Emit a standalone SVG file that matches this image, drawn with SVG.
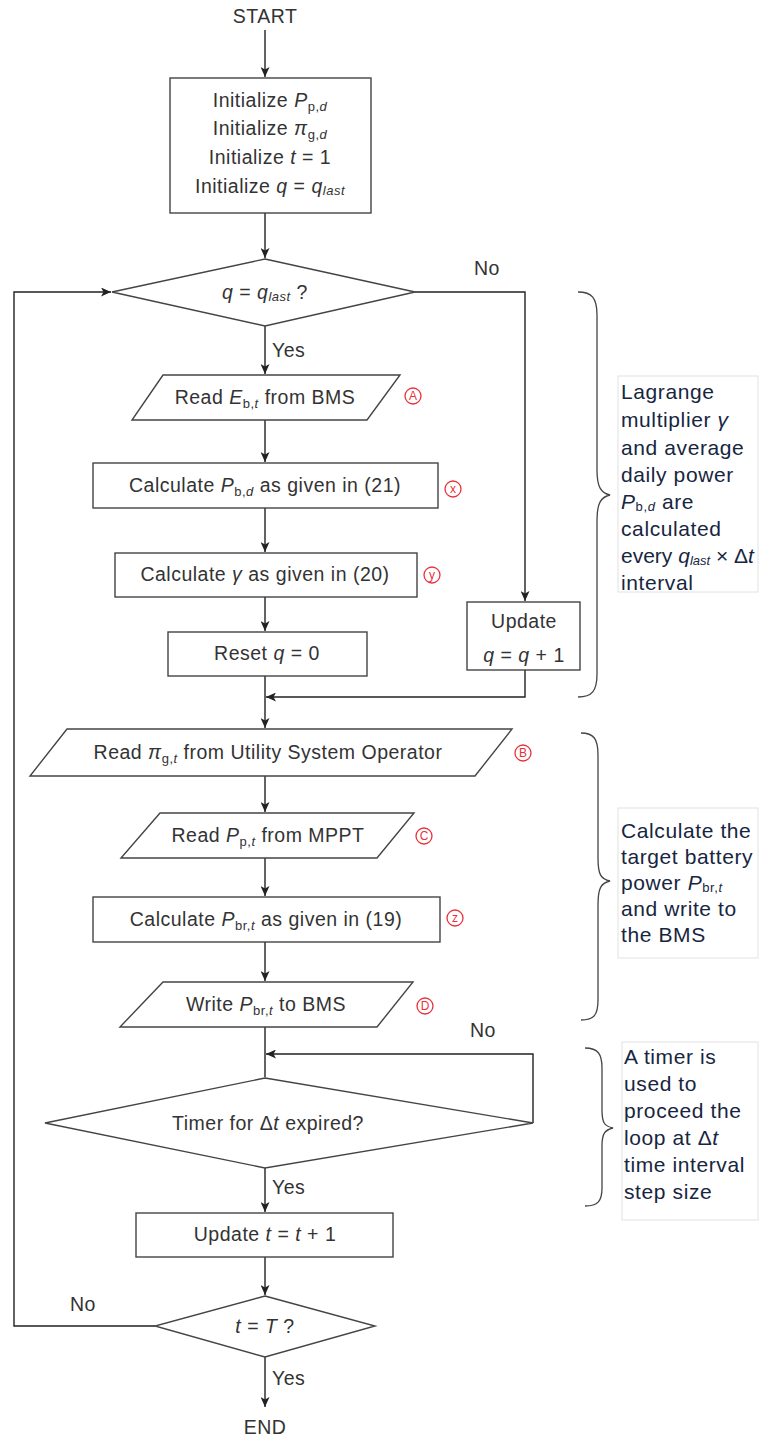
<svg xmlns="http://www.w3.org/2000/svg" width="760" height="1439" viewBox="0 0 760 1439">
<defs>
<marker id="arr" markerUnits="userSpaceOnUse" markerWidth="10" markerHeight="9" viewBox="0 0 10 9" refX="10" refY="4.5" orient="auto">
<path d="M0,0 L10,4.5 L0,9 L2.5,4.5 z" fill="#222"/>
</marker>
<style>
.shape{fill:#fff;stroke:#444;stroke-width:1.4}
.conn{fill:none;stroke:#222;stroke-width:1.4}
.t{font-family:"Liberation Sans",Arial,sans-serif;font-size:19.5px;fill:#333;letter-spacing:0.5px}
.c{text-anchor:middle}
.i{font-style:italic}
.s{font-size:13px}
.side{font-family:"Liberation Sans",Arial,sans-serif;font-size:21px;fill:#17263f;letter-spacing:0.6px}
.tight{letter-spacing:0}
.sbox{fill:#fff;stroke:#e2e2e2;stroke-width:1}
.brace{fill:none;stroke:#444;stroke-width:1.3}
.mk circle{fill:#fff;stroke:#e8323c;stroke-width:1.3}
.mk text{font-family:"Liberation Sans",Arial,sans-serif;font-size:12px;fill:#e8323c;text-anchor:middle}
</style>
</defs>
<rect width="760" height="1439" fill="#fff"/>

<g id="connectors">
<line class="conn" x1="265" y1="30" x2="265" y2="77" marker-end="url(#arr)"/>
<line class="conn" x1="265" y1="213" x2="265" y2="258" marker-end="url(#arr)"/>
<line class="conn" x1="265" y1="326" x2="265" y2="374" marker-end="url(#arr)"/>
<line class="conn" x1="265" y1="420" x2="265" y2="462" marker-end="url(#arr)"/>
<line class="conn" x1="265" y1="508" x2="265" y2="552" marker-end="url(#arr)"/>
<line class="conn" x1="265" y1="597" x2="265" y2="631" marker-end="url(#arr)"/>
<line class="conn" x1="265" y1="676" x2="265" y2="728" marker-end="url(#arr)"/>
<polyline class="conn" points="415,292 525,292 525,601" marker-end="url(#arr)"/>
<polyline class="conn" points="525,670 525,697 266,697" marker-end="url(#arr)"/>
<line class="conn" x1="265" y1="776" x2="265" y2="812" marker-end="url(#arr)"/>
<line class="conn" x1="265" y1="858" x2="265" y2="896" marker-end="url(#arr)"/>
<line class="conn" x1="265" y1="942" x2="265" y2="981" marker-end="url(#arr)"/>
<line class="conn" x1="265" y1="1027" x2="265" y2="1077"/>
<polyline class="conn" points="533,1123 533,1054 266,1054" marker-end="url(#arr)"/>
<line class="conn" x1="265" y1="1168" x2="265" y2="1212" marker-end="url(#arr)"/>
<line class="conn" x1="265" y1="1257" x2="265" y2="1295" marker-end="url(#arr)"/>
<polyline class="conn" points="155,1326 14,1326 14,292 111,292" marker-end="url(#arr)"/>
<line class="conn" x1="265" y1="1357" x2="265" y2="1407" marker-end="url(#arr)"/>
<text class="t" x="474" y="275">No</text>
<text class="t" x="272" y="357">Yes</text>
<text class="t" x="470" y="1037">No</text>
<text class="t" x="272" y="1194">Yes</text>
<text class="t" x="70" y="1311">No</text>
<text class="t" x="272" y="1385">Yes</text>
</g>

<g id="start"><text class="t c" x="265" y="23">START</text></g>
<g id="end"><text class="t c" x="265" y="1434">END</text></g>

<g id="init">
<rect class="shape" x="170" y="78" width="201" height="135"/>
<text class="t c" x="270" y="107">Initialize <tspan class="i">P</tspan><tspan class="s" dy="4">p,</tspan><tspan class="s i">d</tspan></text>
<text class="t c" x="270" y="135">Initialize <tspan class="i">π</tspan><tspan class="s" dy="4">g,</tspan><tspan class="s i">d</tspan></text>
<text class="t c" x="270" y="164">Initialize <tspan class="i">t</tspan> = 1</text>
<text class="t c" x="270" y="193">Initialize <tspan class="i">q</tspan> = <tspan class="i">q</tspan><tspan class="s i" dy="2">last</tspan></text>
</g>

<g id="decision-q">
<polygon class="shape" points="265,259 415,292 265,326 112,292"/>
<text class="t c" x="265" y="299"><tspan class="i">q</tspan> = <tspan class="i">q</tspan><tspan class="s i" dy="2">last</tspan><tspan dy="-2"> ?</tspan></text>
</g>

<g id="read-E">
<polygon class="shape" points="163,375 400,375 367,420 132,420"/>
<text class="t c" x="265" y="404">Read <tspan class="i">E</tspan><tspan class="s" dy="4">b,</tspan><tspan class="s i">t</tspan><tspan dy="-4"> from BMS</tspan></text>
<g class="mk"><circle cx="413" cy="396" r="8"/><text x="413" y="400">A</text></g>
</g>

<g id="calc-Pbd">
<rect class="shape" x="93" y="463" width="345" height="45"/>
<text class="t c" x="265" y="492">Calculate <tspan class="i">P</tspan><tspan class="s" dy="4">b,</tspan><tspan class="s i">d</tspan><tspan dy="-4"> as given in (21)</tspan></text>
<g class="mk"><circle cx="453" cy="489" r="8"/><text x="453" y="493">x</text></g>
</g>

<g id="calc-gamma">
<rect class="shape" x="115" y="553" width="302" height="44"/>
<text class="t c" x="265" y="581">Calculate <tspan class="i">γ</tspan> as given in (20)</text>
<g class="mk"><circle cx="432" cy="575" r="8"/><text x="432" y="579">y</text></g>
</g>

<g id="reset-q">
<rect class="shape" x="168" y="632" width="199" height="44"/>
<text class="t c" x="267" y="660">Reset <tspan class="i">q</tspan> = 0</text>
</g>

<g id="update-q">
<rect class="shape" x="467" y="602" width="113" height="68"/>
<text class="t c" x="524" y="628">Update</text>
<text class="t c" x="524" y="662"><tspan class="i">q</tspan> = <tspan class="i">q</tspan> + 1</text>
</g>

<g id="read-pi">
<polygon class="shape" points="67,729 512,729 475,776 30,776"/>
<text class="t c" x="268" y="759">Read <tspan class="i">π</tspan><tspan class="s" dy="4">g,</tspan><tspan class="s i">t</tspan><tspan dy="-4"> from Utility System Operator</tspan></text>
<g class="mk"><circle cx="523" cy="753" r="8"/><text x="523" y="757">B</text></g>
</g>

<g id="read-Pp">
<polygon class="shape" points="160,813 414,813 377,858 121,858"/>
<text class="t c" x="268" y="842">Read <tspan class="i">P</tspan><tspan class="s" dy="4">p,</tspan><tspan class="s i">t</tspan><tspan dy="-4"> from MPPT</tspan></text>
<g class="mk"><circle cx="424" cy="836" r="8"/><text x="424" y="840">C</text></g>
</g>

<g id="calc-Pbr">
<rect class="shape" x="93" y="897" width="347" height="45"/>
<text class="t c" x="266" y="926">Calculate <tspan class="i">P</tspan><tspan class="s" dy="4">br,</tspan><tspan class="s i">t</tspan><tspan dy="-4"> as given in (19)</tspan></text>
<g class="mk"><circle cx="455" cy="918" r="8"/><text x="455" y="922">z</text></g>
</g>

<g id="write-Pbr">
<polygon class="shape" points="163,982 413,982 377,1027 120,1027"/>
<text class="t c" x="266" y="1011">Write <tspan class="i">P</tspan><tspan class="s" dy="4">br,</tspan><tspan class="s i">t</tspan><tspan dy="-4"> to BMS</tspan></text>
<g class="mk"><circle cx="425" cy="1006" r="8"/><text x="425" y="1010">D</text></g>
</g>

<g id="timer">
<polygon class="shape" points="265,1078 533,1123 265,1168 45,1123"/>
<text class="t c" x="268" y="1130">Timer for Δ<tspan class="i">t</tspan> expired?</text>
</g>

<g id="update-t">
<rect class="shape" x="136" y="1213" width="257" height="44"/>
<text class="t c" x="265" y="1241">Update <tspan class="i">t</tspan> = <tspan class="i">t</tspan> + 1</text>
</g>

<g id="decision-T">
<polygon class="shape" points="265,1296 375,1326 265,1357 155,1326"/>
<text class="t c" x="265" y="1333"><tspan class="i">t</tspan> = <tspan class="i">T</tspan> ?</text>
</g>

<g id="note-1">
<path class="brace" d="M578,292 C592,292 597,298 597,315 L597,470 C597,487 601,493 610,495 C601,497 597,503 597,520 L597,674 C597,691 592,697 578,697"/>
<rect class="sbox" x="618" y="376" width="140" height="216"/>
<text class="side" x="621" y="399">Lagrange</text>
<text class="side" x="621" y="427">multiplier <tspan class="i">γ</tspan></text>
<text class="side" x="621" y="455">and average</text>
<text class="side" x="621" y="482">daily power</text>
<text class="side" x="621" y="509"><tspan class="i">P</tspan><tspan class="s" dy="2">b,</tspan><tspan class="s i">d</tspan><tspan dy="-2"> are</tspan></text>
<text class="side" x="621" y="536">calculated</text>
<text class="side tight" x="621" y="563">every <tspan class="i">q</tspan><tspan class="s i" dy="2">last</tspan><tspan dy="-2"> × Δ</tspan><tspan class="i">t</tspan></text>
<text class="side" x="621" y="590">interval</text>
</g>

<g id="note-2">
<path class="brace" d="M581,733 C594,733 598,739 598,755 L598,858 C598,875 601,879 610,881 C601,883 598,888 598,905 L598,1000 C598,1015 594,1020 581,1020"/>
<rect class="sbox" x="618" y="808" width="140" height="150"/>
<text class="side" x="621" y="838">Calculate the</text>
<text class="side" x="621" y="864">target battery</text>
<text class="side" x="621" y="890">power <tspan class="i">P</tspan><tspan class="s" dy="2">br,</tspan><tspan class="s i">t</tspan></text>
<text class="side" x="621" y="916">and write to</text>
<text class="side" x="621" y="942">the BMS</text>
</g>

<g id="note-3">
<path class="brace" d="M585,1048 C598,1048 602,1054 602,1068 L602,1110 C602,1124 605,1126 613,1128 C605,1130 602,1133 602,1146 L602,1188 C602,1201 598,1206 585,1206"/>
<rect class="sbox" x="622" y="1042" width="136" height="178"/>
<text class="side" x="624" y="1064">A timer is</text>
<text class="side" x="624" y="1091">used to</text>
<text class="side" x="624" y="1118">proceed the</text>
<text class="side" x="624" y="1145">loop at Δ<tspan class="i">t</tspan></text>
<text class="side" x="624" y="1172">time interval</text>
<text class="side" x="624" y="1199">step size</text>
</g>
</svg>
